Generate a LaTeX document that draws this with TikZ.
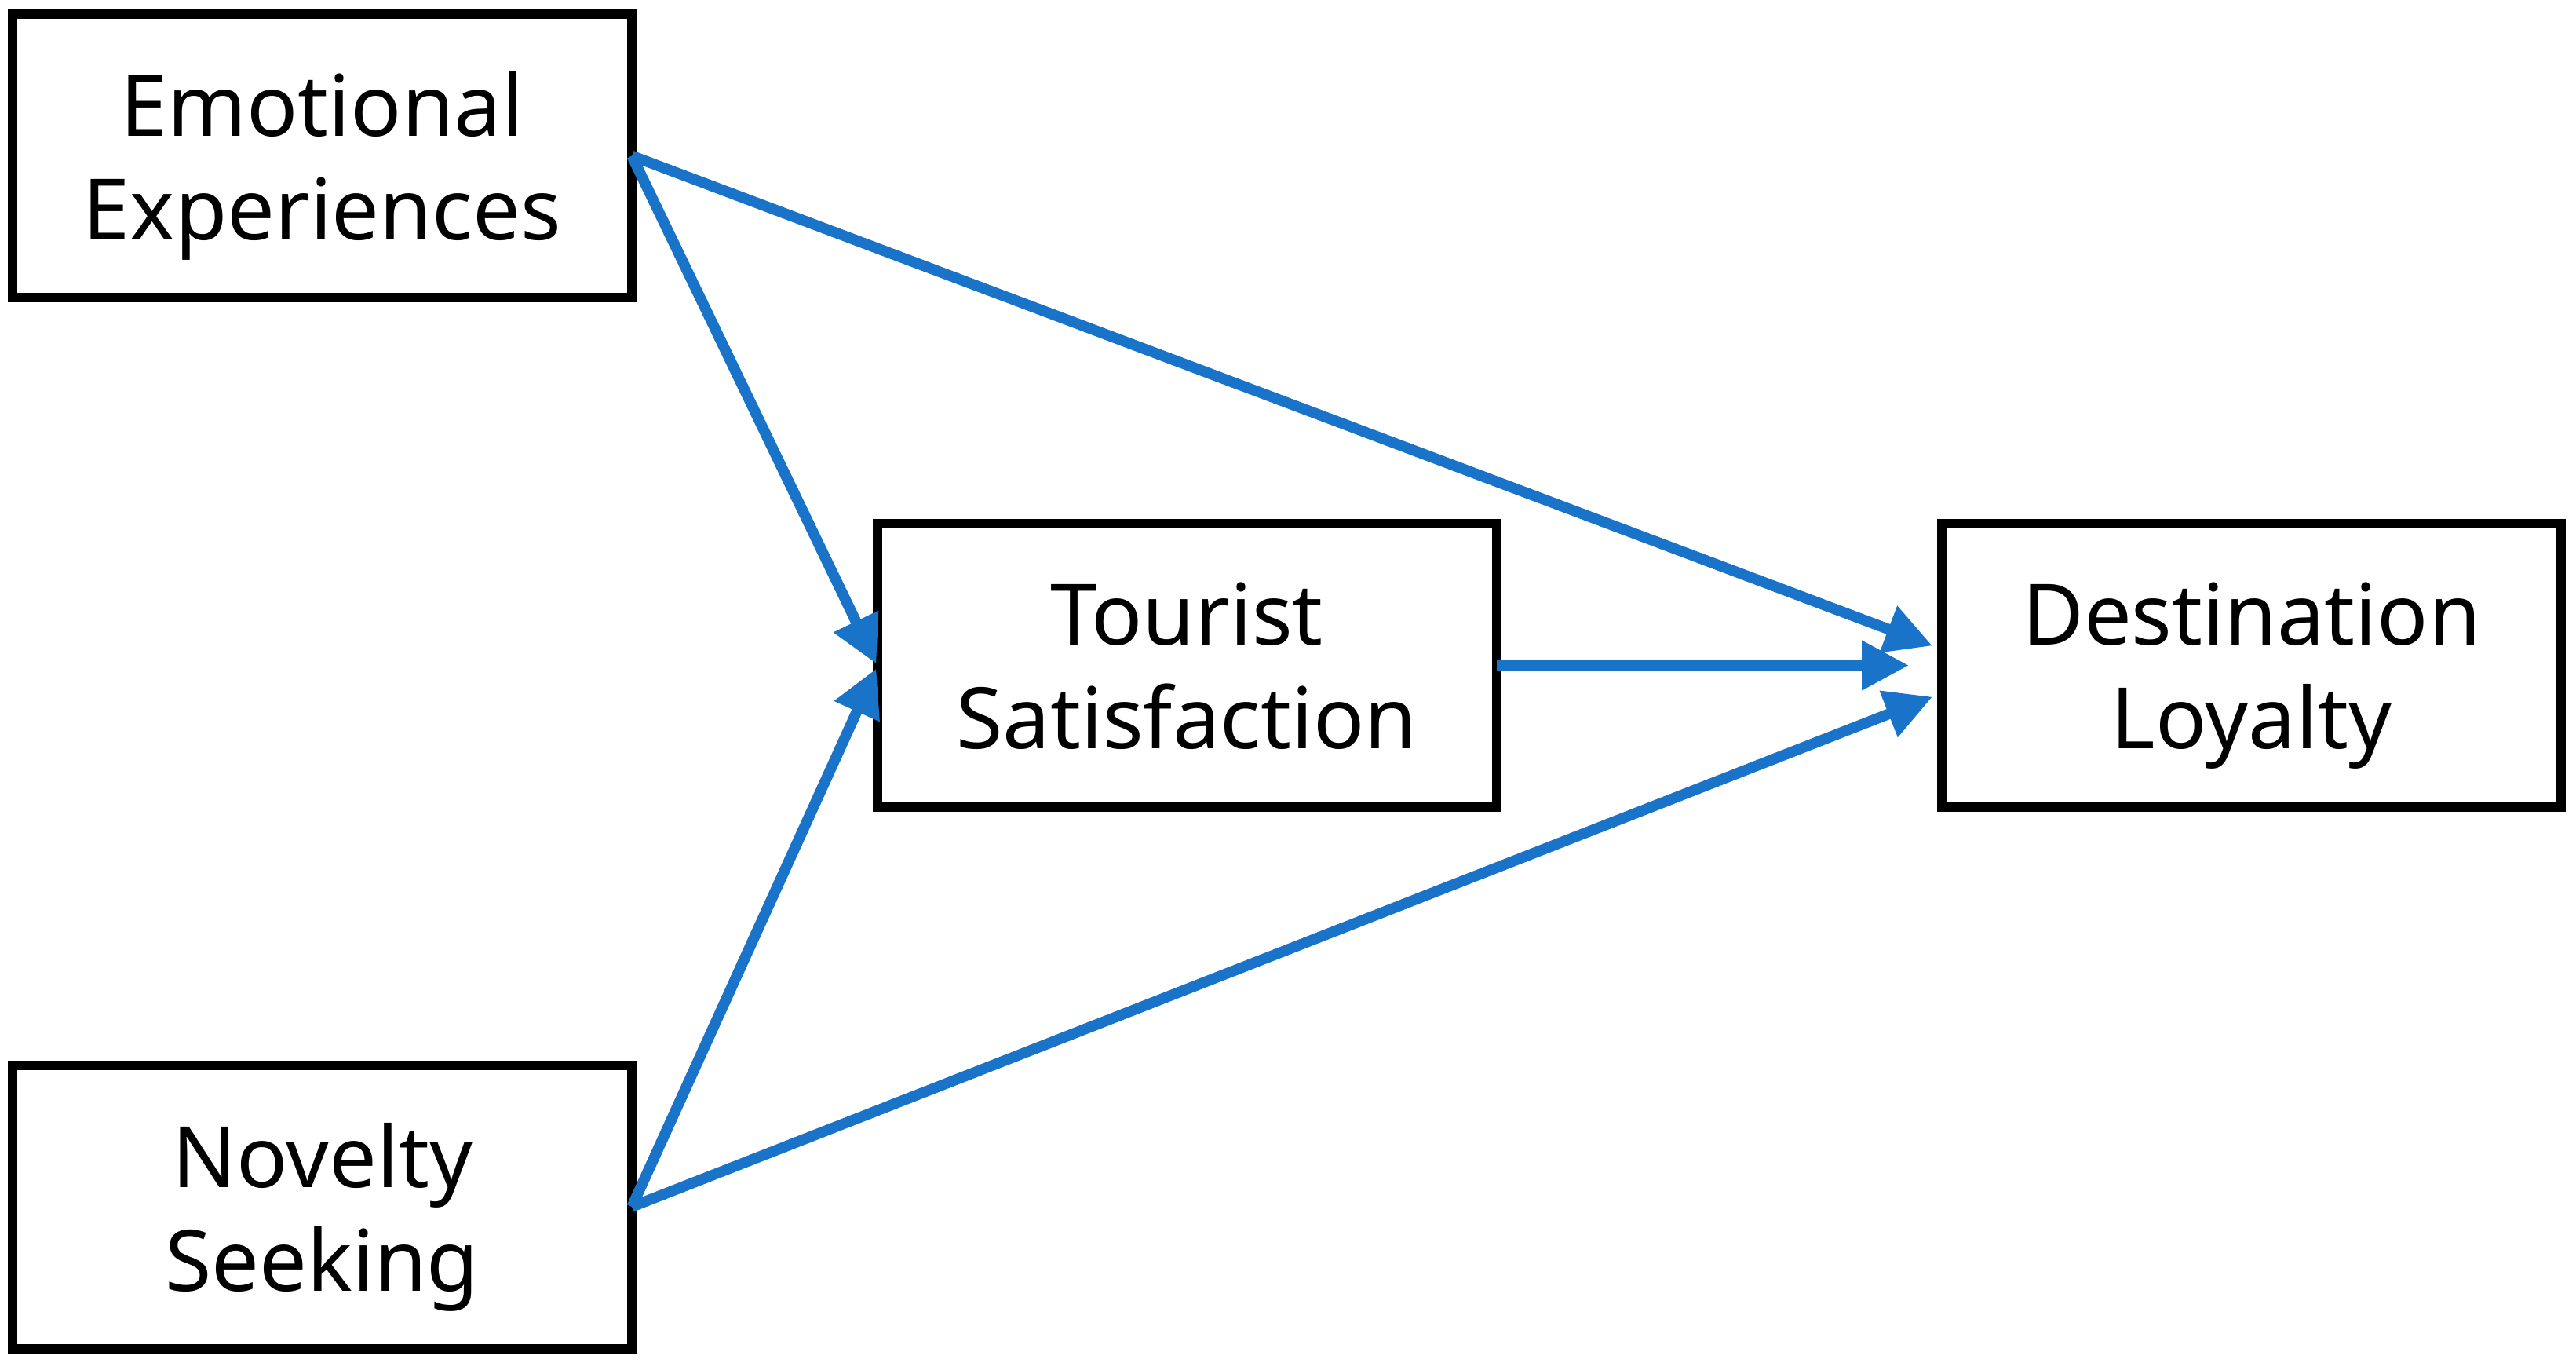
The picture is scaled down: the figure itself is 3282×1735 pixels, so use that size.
\documentclass[tikz,border=0pt]{standalone}
\usepackage{fontspec}
\setmainfont{Noto Sans}
\usetikzlibrary{arrows.meta,calc}
\definecolor{arrowblue}{RGB}{25,115,200}
\begin{document}
\begin{tikzpicture}[x=0.25pt,y=-0.25pt,
  box/.style={draw=black,line width=3pt,fill=white,inner sep=0pt,outer sep=0pt,
    minimum width=197.25pt,minimum height=90.25pt,align=center,text depth=0pt,
    font=\fontsize{27}{33}\selectfont},
  link/.style={draw=arrowblue,line width=3.4pt,
    -{Triangle[length=15pt,width=15pt]}}]
\useasboundingbox (0,0) rectangle (3282,1735);
\node[box] (EE) at (410.5,198.5) {Emotional\\Experiences};
\node[box] (NS) at (410.5,1537) {Novelty\\Seeking};
\node[box] (TS) at (1512,847.5) {Tourist\\Satisfaction};
\node[box] (DL) at (2868.5,847.5) {Destination\\Loyalty};
\coordinate (dlA) at ($(DL.west)+(-12,-25)$);
\coordinate (dlB) at ($(DL.west)+(-42,0)$);
\coordinate (dlC) at ($(DL.west)+(-12,40)$);
\coordinate (tsA) at ($(TS.west)+(-1,-2)$);
\coordinate (tsB) at ($(TS.west)+(-1,4)$);
\path[link] (EE.east) -- (tsA);
\path[link] (NS.east) -- (tsB);
\path[link] (EE.east) -- (dlA);
\path[link] (NS.east) -- (dlC);
\path[link] (TS.east) -- (dlB);
\end{tikzpicture}
\end{document}
